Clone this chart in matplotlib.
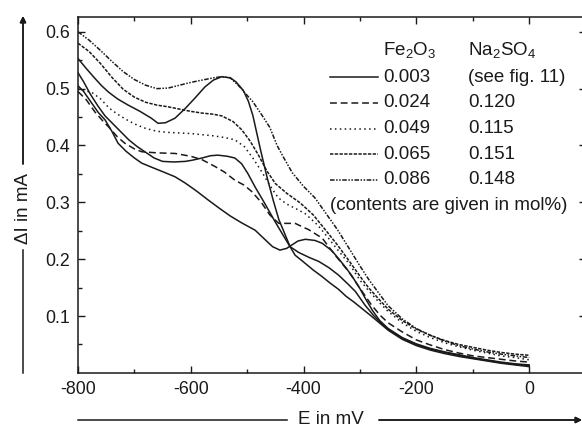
import matplotlib
matplotlib.use("Agg")
import matplotlib.pyplot as plt
from matplotlib.lines import Line2D

plt.rcParams["font.family"] = ["Liberation Sans", "DejaVu Sans"]
plt.rcParams["mathtext.fontset"] = "custom"
plt.rcParams["mathtext.rm"] = "Liberation Sans"

# curves: E in mV, delta I in mA
fe2o3 = ["0.003", "0.024", "0.049", "0.065", "0.086"]
na2so4 = ["(see fig. 11)", "0.120", "0.115", "0.151", "0.148"]

# three solid curves for 0.003 (see fig. 11)
solid_a_e = [-800, -785, -770, -758, -746, -730, -711, -690, -670, -658, -645, -628, -610, -593,
             -575, -560, -545, -530, -520, -507, -498, -490, -477, -465, -454, -444, -436, -424,
             -415, -400, -383, -368, -353, -338, -325, -310, -295, -280, -268, -250, -225, -200,
             -175, -150, -125, -100, -75, -50, -25, 0]
solid_a_i = [0.553, 0.535, 0.518, 0.505, 0.494, 0.482, 0.471, 0.460, 0.448, 0.439, 0.440, 0.448,
             0.465, 0.483, 0.503, 0.515, 0.521, 0.519, 0.512, 0.497, 0.478, 0.453, 0.395, 0.345,
             0.304, 0.270, 0.251, 0.222, 0.207, 0.195, 0.181, 0.170, 0.158, 0.147, 0.135, 0.124,
             0.112, 0.100, 0.090, 0.075, 0.059, 0.048, 0.040, 0.034, 0.029, 0.025, 0.021, 0.017,
             0.014, 0.011]

solid_b_e = [-800, -790, -778, -765, -752, -740, -725, -710, -695, -680, -665, -650, -630, -610,
             -598, -580, -565, -552, -535, -522, -510, -499, -486, -470, -450, -435, -424, -409,
             -390, -373, -355, -338, -320, -308, -291, -275, -265, -250, -225, -200, -175, -150,
             -125, -100, -75, -50, -25, 0]
solid_b_i = [0.528, 0.512, 0.490, 0.470, 0.452, 0.440, 0.425, 0.410, 0.398, 0.388, 0.378, 0.372,
             0.371, 0.372, 0.374, 0.378, 0.382, 0.383, 0.381, 0.378, 0.368, 0.351, 0.327, 0.300,
             0.265, 0.240, 0.222, 0.212, 0.203, 0.196, 0.185, 0.172, 0.155, 0.143, 0.119, 0.100,
             0.090, 0.077, 0.061, 0.050, 0.042, 0.036, 0.031, 0.026, 0.022, 0.018, 0.015, 0.013]

solid_c_e = [-800, -790, -776, -764, -752, -740, -729, -715, -700, -687, -670, -650, -628, -610,
             -590, -569, -550, -530, -510, -486, -470, -455, -442, -430, -424, -410, -397, -380,
             -367, -350, -338, -325, -314, -300, -290, -278, -265, -250, -225, -200, -175, -150,
             -125, -100, -75, -50, -25, 0]
solid_c_i = [0.505, 0.495, 0.475, 0.458, 0.445, 0.425, 0.404, 0.390, 0.378, 0.369, 0.362, 0.354,
             0.345, 0.334, 0.320, 0.304, 0.290, 0.276, 0.264, 0.251, 0.236, 0.222, 0.216, 0.219,
             0.223, 0.232, 0.235, 0.233, 0.228, 0.215, 0.201, 0.185, 0.170, 0.148, 0.130, 0.110,
             0.092, 0.078, 0.062, 0.051, 0.043, 0.037, 0.032, 0.027, 0.023, 0.019, 0.016, 0.014]

e_024 = [-800, -785, -770, -755, -746, -730, -717, -700, -687, -660, -628, -600, -580, -557, -540,
         -522, -505, -492, -475, -460, -444, -430, -415, -400, -391, -367, -344, -320, -296, -280,
         -265, -250, -225, -200, -175, -150, -125, -100, -75, -50, -25, 0]
i_024 = [0.495, 0.480, 0.459, 0.442, 0.433, 0.415, 0.404, 0.394, 0.389, 0.387, 0.386, 0.381, 0.375,
         0.363, 0.353, 0.339, 0.330, 0.319, 0.300, 0.278, 0.263, 0.263, 0.263, 0.256, 0.252, 0.237,
         0.207, 0.178, 0.143, 0.120, 0.102, 0.088, 0.072, 0.058, 0.049, 0.041, 0.035, 0.030, 0.027,
         0.024, 0.021, 0.019]

e_049 = [-800, -790, -775, -760, -745, -730, -715, -700, -680, -660, -640, -620, -600, -580, -560,
         -540, -522, -505, -490, -475, -460, -445, -430, -410, -397, -375, -356, -340, -320, -300,
         -285, -267, -250, -225, -200, -175, -150, -125, -100, -75, -50, -25, 0]
i_049 = [0.500, 0.497, 0.493, 0.482, 0.466, 0.455, 0.446, 0.438, 0.430, 0.425, 0.423, 0.422, 0.421,
         0.419, 0.417, 0.414, 0.410, 0.398, 0.378, 0.355, 0.330, 0.308, 0.297, 0.287, 0.280, 0.260,
         0.237, 0.217, 0.193, 0.163, 0.145, 0.125, 0.108, 0.088, 0.073, 0.062, 0.053, 0.046, 0.040,
         0.035, 0.030, 0.027, 0.023]

e_065 = [-800, -780, -760, -740, -720, -700, -680, -660, -640, -620, -600, -580, -560, -545, -525,
         -510, -495, -480, -465, -450, -430, -406, -383, -360, -340, -320, -300, -285, -265, -250,
         -225, -200, -175, -150, -125, -100, -75, -50, -25, 0]
i_065 = [0.580, 0.565, 0.544, 0.520, 0.499, 0.485, 0.476, 0.471, 0.468, 0.464, 0.460, 0.457, 0.455,
         0.452, 0.442, 0.428, 0.408, 0.383, 0.355, 0.333, 0.316, 0.299, 0.278, 0.250, 0.225, 0.198,
         0.170, 0.150, 0.128, 0.112, 0.092, 0.077, 0.066, 0.057, 0.050, 0.045, 0.040, 0.036, 0.033,
         0.031]

e_086 = [-800, -780, -760, -740, -720, -700, -680, -660, -640, -620, -600, -580, -560, -545, -530,
         -515, -500, -490, -475, -460, -447, -435, -420, -400, -380, -360, -340, -320, -300, -285,
         -265, -250, -225, -200, -175, -150, -125, -100, -75, -50, -25, 0]
i_086 = [0.600, 0.585, 0.567, 0.548, 0.530, 0.516, 0.506, 0.500, 0.501, 0.506, 0.511, 0.515, 0.519,
         0.521, 0.519, 0.505, 0.488, 0.477, 0.455, 0.432, 0.400, 0.378, 0.352, 0.328, 0.308, 0.280,
         0.252, 0.220, 0.188, 0.165, 0.138, 0.118, 0.095, 0.078, 0.066, 0.056, 0.048, 0.042, 0.037,
         0.033, 0.030, 0.027]

styles = ["-", (0, (4.5, 2.5)), (0, (1, 2.2)), (0, (2.2, 0.9)), (0, (3, 1, 1, 1, 1, 1))]
LW = 1.1
COLOR = "#1a1a1a"

fig = plt.figure(figsize=(5.82, 4.28), dpi=100)
ax = fig.add_axes([78 / 582, 55.1 / 428, 507.6 / 582, 355.9 / 428])

for e, i in [(solid_a_e, solid_a_i), (solid_b_e, solid_b_i), (solid_c_e, solid_c_i)]:
    ax.plot(e, i, linestyle=styles[0], color=COLOR, lw=LW)
ax.plot(e_024, i_024, linestyle=styles[1], color=COLOR, lw=LW)
ax.plot(e_049, i_049, linestyle=styles[2], color=COLOR, lw=LW)
ax.plot(e_065, i_065, linestyle=styles[3], color=COLOR, lw=LW)
ax.plot(e_086, i_086, linestyle=styles[4], color=COLOR, lw=LW)

ax.set_xlim(-800, 100)
ax.set_ylim(0, 0.626)
ax.set_xticks([-800, -600, -400, -200, 0])
ax.set_xticks([-700, -500, -300, -100], minor=True)
ax.set_yticks([0.1, 0.2, 0.3, 0.4, 0.5, 0.6])
ax.set_yticks([0.05, 0.15, 0.25, 0.35, 0.45, 0.55], minor=True)
ax.set_xticklabels(["-800", "-600", "-400", "-200", "0"])
ax.tick_params(which="both", direction="in", top=True, right=True, width=1.0, color=COLOR,
               labelsize=12.8, labelcolor=COLOR)
ax.tick_params(which="major", length=5, pad=6)
ax.tick_params(which="minor", length=3)
for s in ax.spines.values():
    s.set_linewidth(1.1)
    s.set_color(COLOR)

# legend table drawn by hand
fs = 13.5
x_seg0, x_seg1, x_fe, x_na = 0.496, 0.591, 0.601, 0.768
y_head, y0, dy = 0.905, 0.831, 0.0722
ax.text(x_fe, y_head, r"Fe$_\mathregular{2}$O$_\mathregular{3}$", transform=ax.transAxes,
        fontsize=fs, va="center", ha="left", color=COLOR)
ax.text(x_na, y_head, r"Na$_\mathregular{2}$SO$_\mathregular{4}$", transform=ax.transAxes,
        fontsize=fs, va="center", ha="left", color=COLOR)
for k in range(5):
    y = y0 - k * dy
    ax.add_line(Line2D([x_seg0, x_seg1], [y, y], transform=ax.transAxes, color=COLOR, lw=LW,
                       linestyle=styles[k]))
    ax.text(x_fe, y, fe2o3[k], transform=ax.transAxes, fontsize=fs, va="center", ha="left",
            color=COLOR)
    ax.text(x_na, y, na2so4[k], transform=ax.transAxes, fontsize=fs, va="center", ha="left",
            color=COLOR)
ax.text(x_seg0, y0 - 5 * dy, "(contents are given in mol%)", transform=ax.transAxes,
        fontsize=fs, va="center", ha="left", color=COLOR)

# axis labels with arrow lines, in figure pixels
W, H = 582, 428


def fx(px):
    return px / W


def fy(py):
    return 1 - py / H


fig.text(fx(23), fy(208), "\u0394I in mA", rotation=90, ha="center", va="center",
         fontsize=fs, color=COLOR)
fig.add_artist(Line2D([fx(23), fx(23)], [fy(373), fy(250)], color=COLOR, lw=1.1))
fig.add_artist(plt.annotate("", xy=(fx(23), fy(16)), xytext=(fx(23), fy(164)),
                            xycoords="figure fraction", textcoords="figure fraction",
                            arrowprops=dict(arrowstyle="-|>", color=COLOR, lw=1.1,
                                            mutation_scale=9, shrinkA=0, shrinkB=0)))

fig.text(fx(331), fy(420), "E in mV", ha="center", va="center", fontsize=fs, color=COLOR)
fig.add_artist(Line2D([fx(78), fx(287)], [fy(420), fy(420)], color=COLOR, lw=1.1))
fig.add_artist(plt.annotate("", xy=(fx(582), fy(420)), xytext=(fx(379), fy(420)),
                            xycoords="figure fraction", textcoords="figure fraction",
                            arrowprops=dict(arrowstyle="-|>", color=COLOR, lw=1.1,
                                            mutation_scale=9, shrinkA=0, shrinkB=0)))

fig.savefig("out.png", dpi=100)
